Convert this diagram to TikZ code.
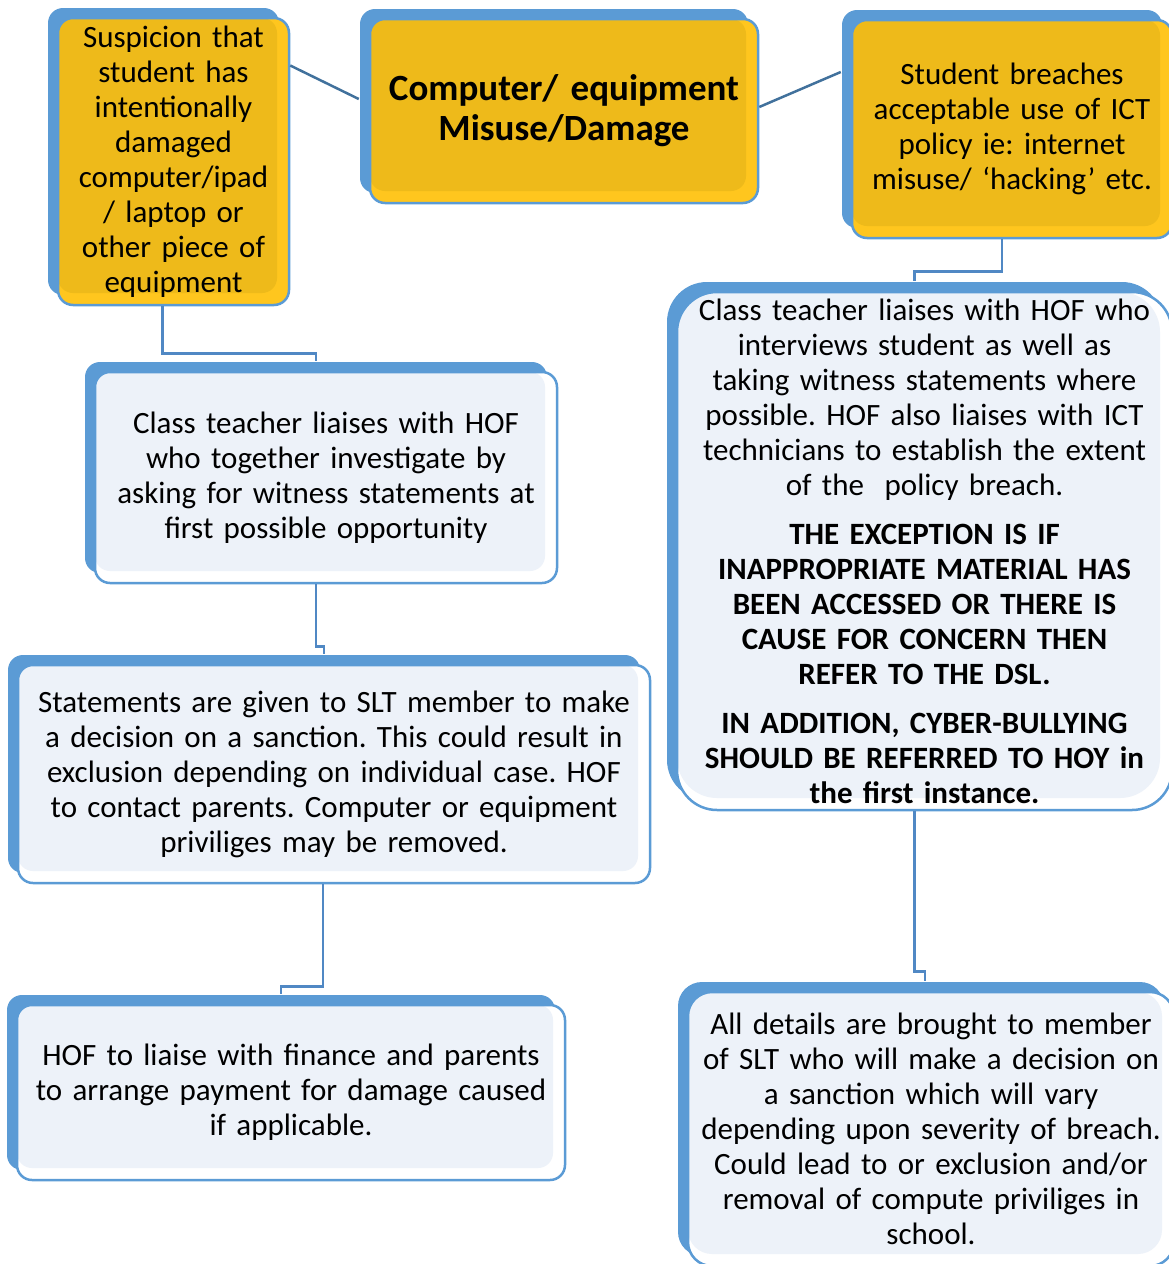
\documentclass[tikz,border=0pt]{standalone}
\usepackage{fontspec}
\setmainfont{Carlito}
\frenchspacing
\usetikzlibrary{shadows}
\definecolor{boxblue}{HTML}{5B9BD5}
\definecolor{lineblue}{HTML}{5088C4}
\definecolor{darkline}{HTML}{41719C}
\definecolor{gold}{HTML}{EEBA1A}
\definecolor{goldband}{HTML}{FFC61E}
\definecolor{paleblue}{HTML}{EDF2F9}

\begin{document}
\begin{tikzpicture}[
                x=1pt, y=-1pt,
                font=\fontsize{31}{35}\selectfont,
                box/.style={rounded corners=15pt, draw=boxblue, line width=2.5pt,
                    align=center, inner sep=0pt,
                    copy shadow={shadow xshift=-10pt, shadow yshift=10pt, fill=boxblue, draw=none}},
                yellowbox/.style={box, fill=goldband,
                    path picture={\fill[gold] (path picture bounding box.north west) rectangle
                        ([xshift=-12pt,yshift=12pt]path picture bounding box.south east);}},
                bluebox/.style={box, fill=white,
                    path picture={\fill[paleblue] (path picture bounding box.north west) rectangle
                        ([xshift=-12pt,yshift=12pt]path picture bounding box.south east);}},
                link/.style={draw=lineblue, line width=2.5pt},
                slant/.style={draw=darkline, line width=2.5pt}
                ]
            \useasboundingbox (0,0) rectangle (1169,1264);
            % Nodes
            \node[yellowbox, text width=231pt, minimum height=287pt] (susp) at (173.5,161.5)
                {Suspicion that\\student has\\intentionally\\damaged\\computer/ipad\\/ laptop or\\other piece of\\equipment};
            \node[yellowbox, text width=388pt, minimum height=184pt,
                font=\fontsize{37}{40}\selectfont\bfseries] (misuse) at (564,111)
                {Computer/ equipment\\Misuse/Damage};
            \node[yellowbox, text width=320pt, minimum height=218pt] (breach) at (1012,129)
                {Student breaches\\acceptable use of ICT\\policy ie: internet\\misuse/ ‘hacking’ etc.};
            \node[bluebox, text width=462pt, minimum height=211pt] (inv) at (326,477.5)
                {Class teacher liaises with HOF\\who together investigate by\\asking for witness statements at\\first possible opportunity};
            \node[bluebox, text width=632pt, minimum height=218pt] (dec) at (334,774)
                {Statements are given to SLT member to make\\a decision on a sanction. This could result in\\exclusion depending on individual case. HOF\\to contact parents. Computer or equipment\\priviliges may be removed.};
            \node[bluebox, text width=548pt, minimum height=175pt] (pay) at (291,1092.5)
                {HOF to liaise with finance and parents\\to arrange payment for damage caused\\if applicable.};
            \node[bluebox, rounded corners=40pt, text width=495pt, minimum height=518pt] (liaise) at (924.5,551)
                {Class teacher liaises with HOF who\\interviews student as well as\\taking witness statements where\\possible. HOF also liaises with ICT\\technicians to establish the extent\\of the \ policy breach.\\[14pt]
                \textbf{THE EXCEPTION IS IF\\INAPPROPRIATE MATERIAL HAS\\BEEN ACCESSED OR THERE IS\\CAUSE FOR CONCERN THEN\\REFER TO THE DSL.}\\[14pt]
                \textbf{IN ADDITION, CYBER-BULLYING\\SHOULD BE REFERRED TO HOY in\\the first instance.}};
            \node[bluebox, rounded corners=24pt, text width=486pt, minimum height=274pt] (slt) at (931,1129)
                {All details are brought to member\\of SLT who will make a decision on\\a sanction which will vary\\depending upon severity of breach.\\Could lead to or exclusion and/or\\removal of compute priviliges in\\school.};
            % Edges
            \draw[slant] ([yshift=96pt]susp.east) -- ([xshift=-10pt,yshift=12pt]misuse.west);
            \draw[slant] ([yshift=4pt]misuse.east) -- ([xshift=-10pt,yshift=57pt]breach.west);
            \draw[link] ([xshift=-11pt]susp.south) -- ++(0,47) -| ([xshift=-10pt,yshift=10pt]inv.north);
            \draw[link] ([xshift=-10pt]inv.south) -- ++(0,62) -| ([xshift=-10pt,yshift=10pt]dec.north);
            \draw[link] ([xshift=-11pt]dec.south) -- ++(0,102) -| ([xshift=-10pt,yshift=10pt]pay.north);
            \draw[link] ([xshift=-10pt]breach.south) -- ++(0,32) -| ([xshift=-10pt,yshift=10pt]liaise.north);
            \draw[link] ([xshift=-10pt]liaise.south) -- ++(0,160) -| ([xshift=-6pt,yshift=10pt]slt.north);
\end{tikzpicture}
\end{document}
